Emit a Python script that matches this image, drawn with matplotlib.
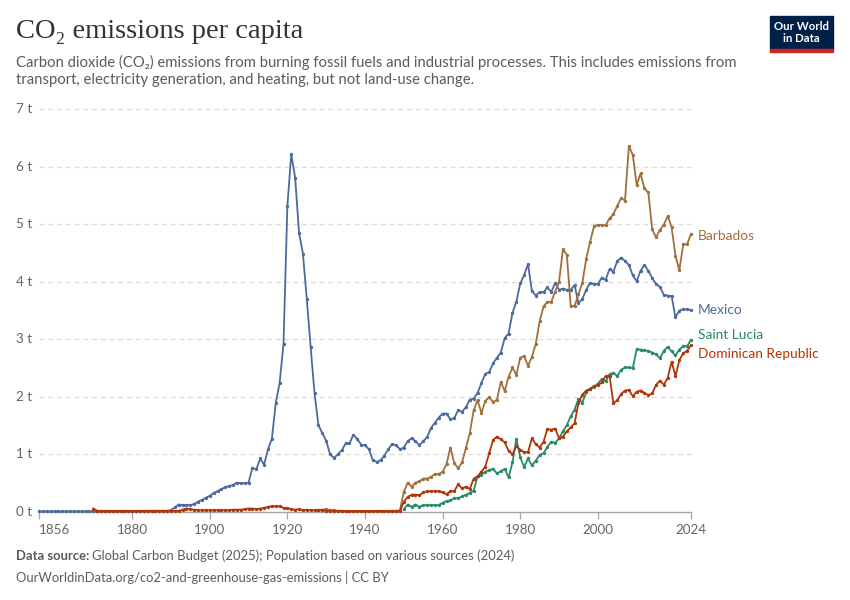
import matplotlib
matplotlib.use("Agg")
import matplotlib.pyplot as plt
import matplotlib.transforms as mtransforms
from matplotlib.patches import Rectangle

# ---------------- data (t CO2 per person) ----------------
mexico_years = list(range(1856, 2025))
mexico_values = [
    0.01, 0.01, 0.01, 0.01,
    0.01, 0.01, 0.01, 0.01, 0.01, 0.01, 0.01, 0.01, 0.01, 0.01,
    0.01, 0.01, 0.01, 0.01, 0.01, 0.01, 0.01, 0.01, 0.01, 0.01,
    0.01, 0.01, 0.01, 0.02, 0.02, 0.02, 0.02, 0.02, 0.02, 0.02,
    0.03, 0.08, 0.13, 0.12, 0.12, 0.12, 0.14, 0.18, 0.21, 0.25,
    0.28, 0.33, 0.36, 0.40, 0.43, 0.45, 0.47, 0.51, 0.50, 0.50,
    0.51, 0.77, 0.74, 0.93, 0.82, 1.09, 1.27, 1.89, 2.24, 2.92,
    5.32, 6.21, 5.81, 4.85, 4.49, 3.70, 2.86, 2.06, 1.51, 1.37,
    1.24, 1.00, 0.94, 1.00, 1.07, 1.19, 1.19, 1.34, 1.27, 1.17,
    1.16, 1.09, 0.90, 0.87, 0.90, 0.98, 1.09, 1.18, 1.16, 1.09,
    1.12, 1.23, 1.28, 1.23, 1.16, 1.23, 1.30, 1.46, 1.55, 1.64,
    1.71, 1.71, 1.61, 1.63, 1.77, 1.74, 1.82, 1.95, 1.97, 2.07,
    2.24, 2.40, 2.43, 2.58, 2.68, 2.77, 3.02, 3.10, 3.46, 3.65,
    3.97, 4.11, 4.31, 3.84, 3.76, 3.82, 3.82, 3.90, 3.82, 3.98,
    3.86, 3.88, 3.86, 3.86, 3.94, 3.63, 3.70, 3.86, 3.98, 3.96,
    3.96, 4.07, 4.03, 4.22, 4.17, 4.36, 4.42, 4.36, 4.29, 4.11,
    4.01, 4.19, 4.29, 4.19, 4.06, 3.96, 3.91, 3.77, 3.76, 3.75,
    3.38, 3.50, 3.52, 3.52, 3.51,
]

dominican_years = list(range(1870, 2025))
dominican_values = [
    0.06, 0.02, 0.02, 0.02, 0.02, 0.02, 0.02, 0.02, 0.02, 0.02,
    0.02, 0.02, 0.02, 0.02, 0.02, 0.02, 0.02, 0.02, 0.02, 0.02,
    0.02, 0.02, 0.02, 0.04, 0.06, 0.05, 0.04, 0.03, 0.03, 0.03,
    0.03, 0.03, 0.03, 0.03, 0.03, 0.03, 0.04, 0.04, 0.04, 0.05,
    0.06, 0.06, 0.05, 0.06, 0.07, 0.09, 0.10, 0.10, 0.10, 0.07,
    0.07, 0.05, 0.04, 0.05, 0.03, 0.04, 0.03, 0.03, 0.03, 0.03,
    0.02, 0.02, 0.02, 0.02, 0.02, 0.01, 0.01, 0.01, 0.01, 0.01,
    0.01, 0.01, 0.01, 0.01, 0.01, 0.01, 0.01, 0.01, 0.01, 0.01,
    0.18, 0.26, 0.30, 0.30, 0.29, 0.34, 0.36, 0.36, 0.36, 0.36,
    0.34, 0.31, 0.36, 0.36, 0.48, 0.41, 0.44, 0.40, 0.58, 0.62,
    0.70, 0.79, 1.02, 1.25, 1.31, 1.26, 1.21, 1.06, 1.00, 1.15,
    1.08, 1.04, 1.04, 1.28, 1.18, 1.12, 1.22, 1.44, 1.43, 1.45,
    1.28, 1.31, 1.40, 1.47, 1.54, 1.89, 2.04, 2.11, 2.14, 2.19,
    2.20, 2.25, 2.36, 2.37, 1.89, 1.94, 2.05, 2.11, 2.12, 2.01,
    2.09, 2.11, 2.07, 2.03, 2.06, 2.21, 2.28, 2.21, 2.33, 2.61,
    2.36, 2.64, 2.76, 2.80, 2.90,
]

barbados_years = list(range(1928, 1935)) + list(range(1947, 2025))
barbados_values = [
    0.03, 0.04, 0.05, 0.03, 0.03, 0.02, 0.02,
    0.02, 0.02, 0.03,
    0.35, 0.51, 0.44, 0.51, 0.53, 0.58, 0.58, 0.61, 0.66, 0.66,
    0.70, 0.83, 1.12, 0.85, 0.76, 0.86, 1.11, 1.37, 1.77, 1.94,
    1.72, 1.93, 1.99, 1.91, 1.95, 2.26, 2.10, 2.35, 2.51, 2.38,
    2.68, 2.71, 2.54, 2.69, 2.92, 3.31, 3.57, 3.65, 3.65, 3.83,
    4.00, 4.56, 4.47, 3.58, 3.58, 3.78, 3.98, 4.40, 4.69, 4.96,
    4.99, 4.98, 4.98, 5.10, 5.17, 5.32, 5.45, 5.41, 6.36, 6.20,
    5.68, 5.88, 5.62, 5.55, 4.91, 4.77, 4.90, 4.99, 5.14, 4.95,
    4.45, 4.20, 4.65, 4.65, 4.83,
]

saint_lucia_years = list(range(1950, 2025))
saint_lucia_values = [
    0.05, 0.13, 0.09, 0.13, 0.09, 0.12, 0.12, 0.12, 0.12, 0.12,
    0.16, 0.19, 0.20, 0.24, 0.24, 0.27, 0.30, 0.33, 0.37, 0.62,
    0.65, 0.70, 0.73, 0.75, 0.67, 0.71, 0.75, 0.60, 0.86, 1.27,
    0.95, 0.78, 0.93, 0.81, 0.89, 0.99, 1.02, 1.13, 1.22, 1.20,
    1.28, 1.40, 1.51, 1.66, 1.78, 1.96, 1.90, 2.08, 2.14, 2.17,
    2.23, 2.31, 2.27, 2.39, 2.42, 2.36, 2.47, 2.51, 2.51, 2.50,
    2.83, 2.82, 2.81, 2.80, 2.77, 2.74, 2.67, 2.80, 2.87, 2.79,
    2.72, 2.82, 2.88, 2.88, 2.99,
]

x_ticks = [1856, 1880, 1900, 1920, 1940, 1960, 1980, 2000, 2024]
y_ticks = [0, 1, 2, 3, 4, 5, 6, 7]
y_tick_labels = ["0 t", "1 t", "2 t", "3 t", "4 t", "5 t", "6 t", "7 t"]

series_names = ["Mexico", "Barbados", "Saint Lucia", "Dominican Republic"]
series_colors = ["#4C6A9C", "#A0703C", "#2A8A66", "#B13507"]
# label anchor heights (layout, in axis units)
label_y = [3.50, 4.80, 3.08, 2.75]

# ---------------- figure ----------------
W, H = 850, 600
fig = plt.figure(figsize=(W / 100, H / 100), dpi=100)
fig.patch.set_facecolor("white")
ax = fig.add_axes([39 / W, (H - 512) / H, (691 - 39) / W, (512 - 109) / H])
ax.set_xlim(1856, 2024)
ax.set_ylim(0, 7)
for s in ax.spines.values():
    s.set_visible(False)
ax.set_facecolor("none")

sans = ["Lato", "DejaVu Sans"]
grey = "#5b5b5b"

# grid lines
for v in y_ticks[1:]:
    ax.axhline(v, color="#dcdcdc", lw=0.9, ls=(0, (4, 3)), zorder=0, clip_on=False)
ax.axhline(0, color="#a6a6a6", lw=1.0, zorder=1, clip_on=False)

ax.set_yticks([])
ax.set_xticks(x_ticks)
ax.set_xticklabels([str(t) for t in x_ticks])
ax.tick_params(axis="x", length=5, width=0.9, color="#a6a6a6", pad=4,
               labelsize=9.7, labelcolor="#666666")
for lbl in ax.get_xticklabels():
    lbl.set_family(sans)
ax.get_xticklabels()[0].set_horizontalalignment("left")

ytrans = mtransforms.blended_transform_factory(fig.transFigure, ax.transData)
for v, t in zip(y_ticks, y_tick_labels):
    ax.text(16 / W, v, t, transform=ytrans, ha="left", va="center",
            fontsize=9.7, color="#666666", family=sans)

data = [
    (mexico_years, mexico_values),
    (barbados_years, barbados_values),
    (saint_lucia_years, saint_lucia_values),
    (dominican_years, dominican_values),
]
for i, (yrs, vals) in enumerate(data):
    ax.plot(yrs, vals, color=series_colors[i], lw=1.3, marker="o", ms=2.4,
            mew=0, zorder=3 + i, clip_on=False)

for name, col, ly in zip(series_names, series_colors, label_y):
    ax.annotate(name, xy=(2024, ly), xytext=(5, 0), textcoords="offset points",
                ha="left", va="center", fontsize=9.9, color=col, family=sans,
                annotation_clip=False)

# ---------------- header ----------------
fig.text(16 / W, 1 - 32 / H, "CO\u2082 emissions per capita",
         family=["Liberation Serif", "DejaVu Serif"], fontsize=20.5,
         color="#333333", va="center", ha="left")
fig.text(16 / W, 1 - 62 / H,
         "Carbon dioxide (CO\u2082) emissions from burning fossil fuels and industrial processes. This includes emissions from",
         family=sans, fontsize=10.7, color=grey, va="center", ha="left")
fig.text(16 / W, 1 - 80 / H,
         "transport, electricity generation, and heating, but not land-use change.",
         family=sans, fontsize=10.7, color=grey, va="center", ha="left")

# logo
fig.patches.append(Rectangle((770 / W, 1 - 49 / H), 63 / W, 33 / H,
                             transform=fig.transFigure, color="#002147", zorder=5))
fig.patches.append(Rectangle((770 / W, 1 - 52 / H), 63 / W, 3 / H,
                             transform=fig.transFigure, color="#CE261E", zorder=5))
fig.text(801.5 / W, 1 - 32.5 / H, "Our World\nin Data", family=sans,
         fontsize=8.2, color="white", ha="center", va="center",
         linespacing=1.05, zorder=6, fontweight="bold")

# ---------------- footer ----------------
renderer = fig.canvas.get_renderer()
t1 = fig.text(16 / W, 1 - 556 / H, "Data source:", family=sans, fontsize=9.4,
              color=grey, fontweight="bold", va="center", ha="left")
bb = t1.get_window_extent(renderer)
fig.text((bb.x1 + 3) / W, 1 - 556 / H,
         "Global Carbon Budget (2025); Population based on various sources (2024)",
         family=sans, fontsize=9.4, color=grey, va="center", ha="left")
fig.text(16 / W, 1 - 577 / H,
         "OurWorldinData.org/co2-and-greenhouse-gas-emissions | CC BY",
         family=sans, fontsize=9.4, color=grey, va="center", ha="left")

fig.savefig("out.png", dpi=100, facecolor="white")
